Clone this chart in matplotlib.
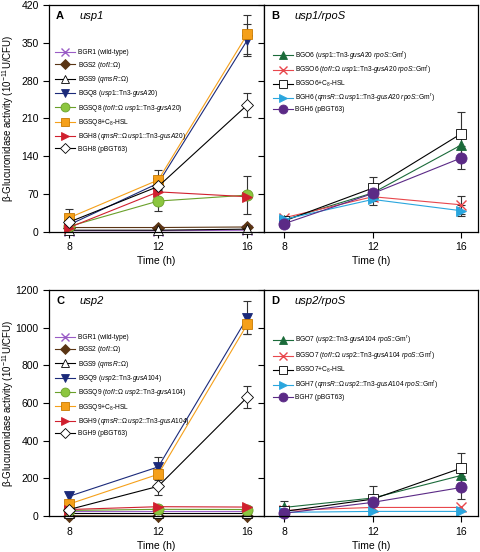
import numpy as np
import matplotlib
matplotlib.use('Agg')
import matplotlib.pyplot as plt

plt.rcParams['font.family'] = ['Liberation Sans', 'DejaVu Sans']
plt.rcParams['mathtext.fontset'] = 'custom'
plt.rcParams['mathtext.rm'] = 'Liberation Sans'
plt.rcParams['mathtext.it'] = 'Liberation Sans:italic'
plt.rcParams['mathtext.bf'] = 'Liberation Sans:bold'
plt.rcParams.update({'font.size': 7.5})

# ------------------------------------------------
# Data
# ------------------------------------------------
time = [8, 12, 16]

# Panel A: usp1
a_bgr1 = [2, 2, 3]
a_bgs2 = [8, 8, 9]
a_bgs9 = [3, 3, 5]
a_bgq8 = [13, 90, 355]
a_bgsq8 = [10, 57, 68]
a_bgsq8_c8 = [26, 96, 366]
a_bgh8 = [8, 74, 65]
a_bgh8_p = [18, 84, 235]
a_bgq8_err = [3, 10, 30]
a_bgsq8_err = [3, 18, 35]
a_bgsq8_c8_err = [16, 18, 36]
a_bgh8_p_err = [3, 8, 22]

# Panel B: usp1/rpoS
b_bgo6 = [22, 72, 161]
b_bgso6 = [26, 65, 50]
b_bgso6_c8 = [20, 81, 182]
b_bgh6 = [23, 60, 39]
b_bgh6_p = [15, 71, 137]
b_bgso6_err = [4, 8, 17]
b_bgso6_c8_err = [5, 21, 39]
b_bgh6_err = [3, 10, 10]
b_bgh6_p_err = [4, 8, 21]

# Panel C: usp2
c_bgr1 = [25, 25, 25]
c_bgs2 = [2, 0, 0]
c_bgs9 = [15, 15, 15]
c_bgq9 = [105, 261, 1053]
c_bgsq9 = [30, 36, 35]
c_bgsq9_c8 = [64, 222, 1018]
c_bgh9 = [35, 50, 48]
c_bgh9_p = [35, 158, 631]
c_bgq9_err = [20, 53, 85]
c_bgsq9_c8_err = [15, 30, 50]
c_bgh9_p_err = [8, 48, 60]

# Panel D: usp2/rpoS
d_bgo7 = [46, 96, 216]
d_bgso7 = [30, 46, 46]
d_bgso7_c8 = [25, 90, 255]
d_bgh7 = [20, 25, 25]
d_bgh7_p = [15, 73, 152]
d_bgo7_err = [35, 10, 20]
d_bgso7_c8_err = [5, 70, 80]
d_bgh7_p_err = [5, 10, 60]

zero = [0, 0, 0]

# ------------------------------------------------
# Labels
# ------------------------------------------------
tn1 = r'$\mathit{usp1}$::Tn$\mathit{3}$-$\mathit{gusA20}$'
tn2 = r'$\mathit{usp2}$::Tn$\mathit{3}$-$\mathit{gusA104}$'
tof = r'$\mathit{tofI}$::Ω'
qms = r'$\mathit{qmsR}$::Ω'
rpo = r'$\mathit{rpoS}$::Gm$^\mathrm{r}$'

labels_a = ['BGR1 (wild-type)', 'BGS2 (' + tof + ')', 'BGS9 (' + qms + ')',
            'BGQ8 (' + tn1 + ')', 'BGSQ8 (' + tof + ' ' + tn1 + ')',
            'BGSQ8+C$_8$-HSL', 'BGH8 (' + qms + ' ' + tn1 + ')', 'BGH8 (pBGT63)']
labels_b = ['BGO6 (' + tn1 + ' ' + rpo + ')', 'BGSO6 (' + tof + ' ' + tn1 + ' ' + rpo + ')',
            'BGSO6+C$_8$-HSL', 'BGH6 (' + qms + ' ' + tn1 + ' ' + rpo + ')', 'BGH6 (pBGT63)']
labels_c = ['BGR1 (wild-type)', 'BGS2 (' + tof + ')', 'BGS9 (' + qms + ')',
            'BGQ9 (' + tn2 + ')', 'BGSQ9 (' + tof + ' ' + tn2 + ')',
            'BGSQ9+C$_8$-HSL', 'BGH9 (' + qms + ' ' + tn2 + ')', 'BGH9 (pBGT63)']
labels_d = ['BGO7 (' + tn2 + ' ' + rpo + ')', 'BGSO7 (' + tof + ' ' + tn2 + ' ' + rpo + ')',
            'BGSO7+C$_8$-HSL', 'BGH7 (' + qms + ' ' + tn2 + ' ' + rpo + ')', 'BGH7 (pBGT63)']

# styles: (marker, face, edge colour, size)
style_top = [('x', '#9a5cc6', '#9a5cc6', 7),
             ('D', '#5a3514', '#5a3514', 6),
             ('^', 'white', 'black', 7),
             ('v', '#1b2a7a', '#1b2a7a', 7.5),
             ('o', '#8cc63f', '#6aa02a', 8),
             ('s', '#f5a01a', '#c87a00', 7.5),
             ('>', '#d0202e', '#d0202e', 7.5),
             ('D', 'white', 'black', 6)]
style_bot = [('^', '#1b6b3a', '#1b6b3a', 7.5),
             ('x', '#e8474c', '#e8474c', 7),
             ('s', 'white', 'black', 7.5),
             ('>', '#2aa6de', '#2aa6de', 7.5),
             ('o', '#5b2a86', '#5b2a86', 8)]
line_top = ['#9a5cc6', '#5a3514', 'black', '#1b2a7a', '#6aa02a', '#f5a01a', '#d0202e', 'black']
line_bot = ['#1b6b3a', '#e8474c', 'black', '#2aa6de', '#5b2a86']

def draw(ax, series, errs, labels, styles, lcolors, letter, name, handle_x, spacing):
    for y, e, lab, st, lc in zip(series, errs, labels, styles, lcolors):
        m, fc, ec, ms = st
        if np.any(np.array(e) > 0):
            ax.errorbar(time, y, yerr=e, fmt='none', ecolor='#333333', elinewidth=0.8,
                        capsize=3, capthick=0.8, zorder=1, clip_on=False)
        ax.plot(time, y, color=lc, linewidth=0.8, marker=m, markersize=ms,
                markerfacecolor=fc, markeredgecolor=ec, markeredgewidth=1.0 if m == 'x' else 0.6,
                label=lab, clip_on=False, zorder=2)
    ax.text(0.033, 0.952, letter, transform=ax.transAxes, fontweight='bold', fontsize=8, va='center')
    ax.text(0.14, 0.952, name, transform=ax.transAxes, fontstyle='italic', fontsize=8, va='center')
    ax.legend(loc='upper left', bbox_to_anchor=(handle_x, 0.805), frameon=False, fontsize=4.8,
              borderpad=0, borderaxespad=0, handlelength=3.0, handletextpad=0.4,
              labelspacing=spacing, markerscale=0.8)
    ax.set_xlim(7.1, 16.75)
    ax.set_xticks(time)
    ax.set_xlabel('Time (h)', labelpad=3)
    ax.tick_params(direction='out', length=4, width=0.8)
    for s in ax.spines.values():
        s.set_linewidth(0.9)

fig = plt.figure(figsize=[4.81, 5.52], dpi=100)
axA = fig.add_axes([0.102, 0.580, 0.447, 0.411])
axB = fig.add_axes([0.549, 0.580, 0.445, 0.411], sharey=axA)
axC = fig.add_axes([0.102, 0.065, 0.447, 0.410])
axD = fig.add_axes([0.549, 0.065, 0.445, 0.410], sharey=axC)

draw(axA, [a_bgr1, a_bgs2, a_bgs9, a_bgq8, a_bgsq8, a_bgsq8_c8, a_bgh8, a_bgh8_p],
     [zero, zero, zero, a_bgq8_err, a_bgsq8_err, a_bgsq8_c8_err, zero, a_bgh8_p_err],
     labels_a, style_top, line_top, 'A', 'usp1', 0.028, 0.5)
draw(axB, [b_bgo6, b_bgso6, b_bgso6_c8, b_bgh6, b_bgh6_p],
     [zero, b_bgso6_err, b_bgso6_c8_err, b_bgh6_err, b_bgh6_p_err],
     labels_b, style_bot, line_bot, 'B', 'usp1/rpoS', 0.04, 0.38)
draw(axC, [c_bgr1, c_bgs2, c_bgs9, c_bgq9, c_bgsq9, c_bgsq9_c8, c_bgh9, c_bgh9_p],
     [zero, zero, zero, c_bgq9_err, zero, c_bgsq9_c8_err, zero, c_bgh9_p_err],
     labels_c, style_top, line_top, 'C', 'usp2', 0.028, 0.5)
draw(axD, [d_bgo7, d_bgso7, d_bgso7_c8, d_bgh7, d_bgh7_p],
     [d_bgo7_err, zero, d_bgso7_c8_err, zero, d_bgh7_p_err],
     labels_d, style_bot, line_bot, 'D', 'usp2/rpoS', 0.04, 0.5)

axA.set_ylim(0, 420)
axA.set_yticks(np.arange(0, 421, 70))
axC.set_ylim(0, 1200)
axC.set_yticks(np.arange(0, 1201, 200))
for ax in [axB, axD]:
    ax.tick_params(labelleft=False)

ylab = r'β-Glucuronidase activity (10$^{-11}$U/CFU)'
for ax in [axA, axC]:
    ax.set_ylabel(ylab, fontsize=7)
    ax.yaxis.set_label_coords(-0.155, 0.5)

fig.savefig('out.png', dpi=100)
